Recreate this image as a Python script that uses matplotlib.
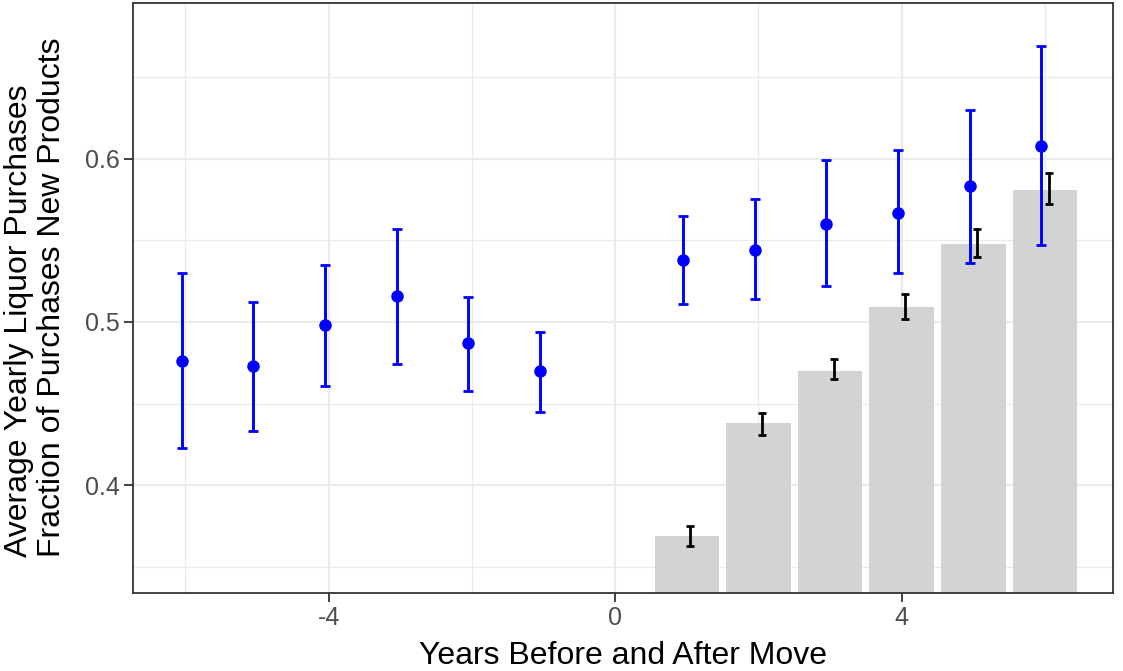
import matplotlib
matplotlib.use("Agg")
import matplotlib.pyplot as plt
import numpy as np

plt.rcParams["font.family"] = ["Liberation Sans", "DejaVu Sans"]

# blue series: fraction of purchases that are new products, by year relative to move
years = [-6, -5, -4, -3, -2, -1, 1, 2, 3, 4, 5, 6]
frac_new = [0.476, 0.473, 0.498, 0.516, 0.487, 0.470, 0.538, 0.544, 0.560, 0.567, 0.583, 0.608]
frac_lo = [0.423, 0.433, 0.461, 0.474, 0.458, 0.445, 0.511, 0.514, 0.522, 0.530, 0.536, 0.547]
frac_hi = [0.530, 0.512, 0.535, 0.557, 0.515, 0.494, 0.565, 0.575, 0.599, 0.605, 0.630, 0.669]

# grey bars: average yearly liquor purchases after the move
bar_years = [1, 2, 3, 4, 5, 6]
purchases = [0.369, 0.438, 0.470, 0.509, 0.548, 0.581]
purch_lo = [0.363, 0.431, 0.465, 0.502, 0.540, 0.572]
purch_hi = [0.375, 0.444, 0.477, 0.517, 0.557, 0.591]

W, H = 1123, 671
fig = plt.figure(figsize=(W / 100, H / 100), dpi=100)
ax = fig.add_axes([133 / W, 1 - 593 / H, 980 / W, 590 / H])

ax.set_xlim(-6.73, 6.95)
ax.set_ylim(0.334, 0.6953)

# theme_bw-ish grid
ax.set_xticks([-4, 0, 4])
ax.set_xticks([-6, -2, 2, 6], minor=True)
ax.set_yticks([0.4, 0.5, 0.6])
ax.set_yticks([0.35, 0.45, 0.55, 0.65], minor=True)
ax.set_xticklabels(["-4", "0", "4"])
ax.set_yticklabels(["0.4", "0.5", "0.6"])
ax.grid(which="major", color="#EBEBEB", lw=1.6, zorder=0)
ax.grid(which="minor", color="#EBEBEB", lw=0.9, zorder=0)
ax.set_axisbelow(True)
ax.tick_params(which="major", length=6.5, width=1.3, color="#333333",
               labelsize=18, labelcolor="#4D4D4D", pad=3)
ax.tick_params(which="minor", length=0)
for s in ax.spines.values():
    s.set_color("#333333")
    s.set_linewidth(1.3)

bx = np.array(bar_years)
ax.bar(bx, purchases, width=0.9, color="#D3D3D3", zorder=2)
pp = np.array(purchases)
ax.errorbar(bx + 0.05, pp, yerr=[pp - np.array(purch_lo), np.array(purch_hi) - pp],
            fmt="none", ecolor="black", elinewidth=2.0, capsize=3.2, capthick=2.0, zorder=3)

yx = np.array(years)
fn = np.array(frac_new)
ax.errorbar(yx - 0.05, fn, yerr=[fn - np.array(frac_lo), np.array(frac_hi) - fn],
            fmt="o", color="#0000FF", ms=8, elinewidth=2.1, capsize=3.4, capthick=2.0, zorder=4)

fig.text(623 / W, 1 - 664 / H, "Years Before and After Move", fontsize=23,
         ha="center", va="baseline")
fig.text(4 / W, 1 - 557 / H,
         "Average Yearly Liquor Purchases\nFraction of Purchases New Products",
         fontsize=23, rotation=90, ha="left", va="bottom", multialignment="left",
         linespacing=1.15)

fig.savefig("out.png", dpi=100)
